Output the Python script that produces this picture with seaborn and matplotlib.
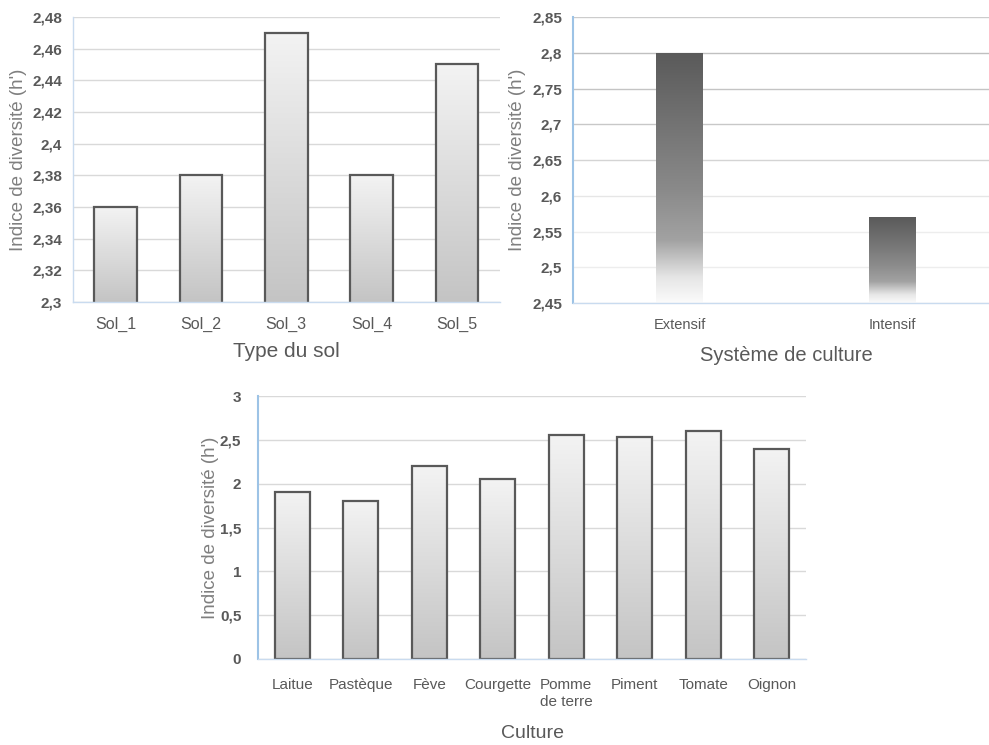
import numpy as np
import matplotlib
matplotlib.use("Agg")
import matplotlib.pyplot as plt
import seaborn as sns
from matplotlib.colors import LinearSegmentedColormap
from matplotlib.ticker import FuncFormatter

# ---------------- data ----------------
sol_types = ["Sol_1", "Sol_2", "Sol_3", "Sol_4", "Sol_5"]
sol_values = [2.36, 2.38, 2.47, 2.38, 2.45]
sol_ticks = [2.30, 2.32, 2.34, 2.36, 2.38, 2.40, 2.42, 2.44, 2.46, 2.48]

systemes = ["Extensif", "Intensif"]
systeme_values = [2.80, 2.57]
systeme_ticks = [2.45, 2.50, 2.55, 2.60, 2.65, 2.70, 2.75, 2.80, 2.85]

cultures = ["Laitue", "Pastèque", "Fève", "Courgette", "Pomme\nde terre",
            "Piment", "Tomate", "Oignon"]
culture_values = [1.90, 1.80, 2.20, 2.05, 2.55, 2.53, 2.60, 2.40]
culture_ticks = [0, 0.5, 1, 1.5, 2, 2.5, 3]

ylabel_text = "Indice de diversité (h')"
xlabel_sol = "Type du sol"
xlabel_sys = "Système de culture"
xlabel_cult = "Culture"

# ---------------- style ----------------
sns.set_theme(style="white")
NARROW = ['Liberation Sans Narrow', 'Liberation Sans', 'DejaVu Sans']
REG = ['Liberation Sans', 'DejaVu Sans']
plt.rcParams['font.family'] = REG

DARK = '#595959'
fig = plt.figure(figsize=(9.89, 7.45), dpi=100)
W, H = 989, 745
ax1 = fig.add_axes([73 / W, 1 - 302 / H, 426.5 / W, 285 / H])
ax2 = fig.add_axes([573 / W, 1 - 303 / H, 426 / W, 286 / H])
ax3 = fig.add_axes([258 / W, 1 - 659 / H, 548 / W, 263 / H])

light_cmap = LinearSegmentedColormap.from_list("light", ['#c4c4c4', '#f3f3f3'])
dark_cmap = LinearSegmentedColormap.from_list(
    "dark", [(0, '#fbfbfb'), (0.1, '#e6e6e6'), (0.25, '#a2a2a2'),
             (0.45, '#8a8a8a'), (1, '#5a5a5a')])

fmt = FuncFormatter(lambda v, _: f"{v:g}".replace('.', ','))


def gradient_fill(ax, cmap, ymin):
    xl, yl = ax.get_xlim(), ax.get_ylim()
    grad = np.linspace(1, 0, 256).reshape(-1, 1)
    for p in list(ax.patches):
        x0, w = p.get_x(), p.get_width()
        top = p.get_y() + p.get_height()
        bottom = max(p.get_y(), ymin)
        im = ax.imshow(grad, extent=[x0, x0 + w, bottom, top], aspect='auto',
                       cmap=cmap, vmin=0, vmax=1, origin='upper',
                       zorder=p.get_zorder() - 0.01, interpolation='bilinear')
        im.set_clip_path(p)
        p.set_facecolor('none')
    ax.set_xlim(xl)
    ax.set_ylim(yl)


def style(ax, ticks, left_color, left_lw, xlab, ylab_x, xlab_y, xt_size, xlab_size):
    ax.set_ylim(ticks[0], ticks[-1])
    ax.set_yticks(ticks)
    ax.yaxis.set_major_formatter(fmt)
    ax.grid(axis='y', color='#d9d9d9', lw=1)
    ax.grid(axis='x', visible=False)
    ax.set_axisbelow(True)
    for s in ['top', 'right']:
        ax.spines[s].set_visible(False)
    ax.spines['left'].set_color(left_color)
    ax.spines['left'].set_linewidth(left_lw)
    ax.spines['bottom'].set_color('#c9dbef')
    ax.spines['bottom'].set_linewidth(1)
    ax.tick_params(axis='both', length=0)
    ax.tick_params(axis='y', pad=8)
    ax.tick_params(axis='x', pad=11)
    for t in ax.get_yticklabels():
        t.set_fontfamily(NARROW)
        t.set_fontweight('bold')
        t.set_fontsize(11)
        t.set_color(DARK)
    for t in ax.get_xticklabels():
        t.set_fontfamily(NARROW)
        t.set_fontsize(xt_size)
        t.set_color(DARK)
    ax.set_ylabel(ylabel_text, fontsize=13.5, color='#7f7f7f', family=REG)
    ax.yaxis.set_label_coords(ylab_x, 0.5)
    ax.set_xlabel(xlab, fontsize=xlab_size, color=DARK, family=NARROW)
    ax.xaxis.set_label_coords(0.5, xlab_y)
    ax.xaxis.label.set_va('top')


# ---------------- chart 1 ----------------
sns.barplot(x=sol_types, y=sol_values, ax=ax1, width=0.5, color='#e0e0e0',
            edgecolor=DARK, linewidth=1.6, saturation=1)
style(ax1, sol_ticks, '#c9dbef', 1, xlabel_sol, -0.108, -0.142, 11.5, 15)
gradient_fill(ax1, light_cmap, sol_ticks[0])

# ---------------- chart 2 ----------------
sns.barplot(x=systemes, y=systeme_values, ax=ax2, width=0.22, color='#808080',
            edgecolor='none', linewidth=0, saturation=1)
style(ax2, systeme_ticks, '#9dc3e6', 1.5, xlabel_sys, -0.110, -0.150, 10.5, 14.5)
grid_cols = ['#ededed', '#ededed', '#ededed', '#e6e6e6', '#d4d4d4',
             '#c8c8c8', '#c4c4c4', '#c0c0c0', '#cccccc']
for gl, c in zip(ax2.yaxis.get_gridlines(), grid_cols):
    gl.set_color(c)
gradient_fill(ax2, dark_cmap, systeme_ticks[0])

# ---------------- chart 3 ----------------
sns.barplot(x=cultures, y=culture_values, ax=ax3, width=0.51, color='#e0e0e0',
            edgecolor=DARK, linewidth=1.6, saturation=1)
style(ax3, culture_ticks, '#9dc3e6', 1.5, xlabel_cult, -0.071, -0.250, 11, 14)
ax3.tick_params(axis='y', pad=12)
ax3.tick_params(axis='x', pad=14)
gradient_fill(ax3, light_cmap, culture_ticks[0])

fig.savefig("out.png", dpi=100)
